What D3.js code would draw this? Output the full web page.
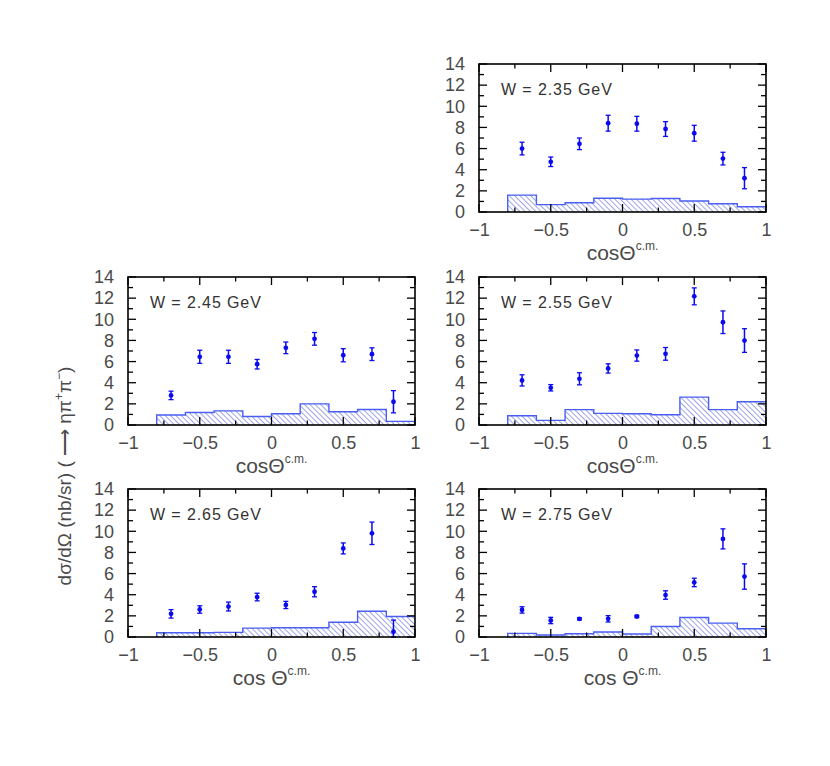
<!DOCTYPE html>
<html>
<head>
<meta charset="utf-8">
<script src="https://cdn.jsdelivr.net/npm/d3@7"></script>
<style>
  body { margin: 0; background: #fff; }
  text { font-family: "Liberation Sans", Arial, sans-serif; }
</style>
</head>
<body>
<svg id="chart" width="830" height="766"></svg>
<script>
// histogram bin edges (systematic errors) and cos(theta) of the data points
const binEdges = [-0.8, -0.6, -0.4, -0.2, 0, 0.2, 0.4, 0.6, 0.8, 1.0];
const cosPoints = [-0.7, -0.5, -0.3, -0.1, 0.1, 0.3, 0.5, 0.7, 0.85];
const xMajorTicks = [-1, -0.5, 0, 0.5, 1];
const xMinorTicks = [-0.75, -0.25, 0.25, 0.75];
const yMajorTicks = [0, 2, 4, 6, 8, 10, 12, 14];
const yMinorTicks = [1, 3, 5, 7, 9, 11, 13];

const energies = ['2.35', '2.45', '2.55', '2.65', '2.75'];

// dsigma/dOmega, stat error, systematic error per bin
const xsec235 = [6.0, 4.75, 6.45, 8.4, 8.35, 7.85, 7.45, 5.05, 3.2];
const err235  = [0.6, 0.45, 0.55, 0.75, 0.7, 0.7, 0.75, 0.6, 1.0];
const sys235  = [1.6, 0.7, 0.88, 1.3, 1.22, 1.28, 1.04, 0.78, 0.5];

const xsec245 = [2.8, 6.45, 6.45, 5.75, 7.3, 8.15, 6.6, 6.7, 2.2];
const err245  = [0.4, 0.62, 0.62, 0.45, 0.55, 0.6, 0.62, 0.6, 1.05];
const sys245  = [0.94, 1.18, 1.34, 0.8, 1.06, 2.0, 1.25, 1.47, 0.34];

const xsec255 = [4.22, 3.52, 4.37, 5.35, 6.57, 6.73, 12.17, 9.72, 7.99];
const err255  = [0.53, 0.3, 0.57, 0.44, 0.53, 0.6, 0.8, 1.07, 1.12];
const sys255  = [0.88, 0.44, 1.45, 1.1, 1.07, 0.97, 2.64, 1.45, 2.2];

const xsec265 = [2.19, 2.6, 2.88, 3.78, 3.03, 4.28, 8.38, 9.81, 0.5];
const err265  = [0.4, 0.35, 0.42, 0.36, 0.34, 0.48, 0.52, 1.06, 1.1];
const sys265  = [0.4, 0.4, 0.44, 0.84, 0.87, 0.87, 1.4, 2.44, 1.94];

const xsec275 = [2.56, 1.56, 1.72, 1.72, 1.94, 3.97, 5.16, 9.28, 5.72];
const err275  = [0.3, 0.3, 0.1, 0.3, 0.1, 0.4, 0.4, 0.95, 1.2];
const sys275  = [0.34, 0.19, 0.31, 0.47, 0.28, 1.0, 1.84, 1.31, 0.78];

const panels = [
  { w: energies[0], xsec: xsec235, err: err235, sys: sys235, col: 1, row: 0, spaced: false },
  { w: energies[1], xsec: xsec245, err: err245, sys: sys245, col: 0, row: 1, spaced: false },
  { w: energies[2], xsec: xsec255, err: err255, sys: sys255, col: 1, row: 1, spaced: false },
  { w: energies[3], xsec: xsec265, err: err265, sys: sys265, col: 0, row: 2, spaced: true },
  { w: energies[4], xsec: xsec275, err: err275, sys: sys275, col: 1, row: 2, spaced: true },
];

const colX = [128, 479];
const rowY = [64, 277, 489];
const pw = 287, ph = 148;
const blue = '#0a0af0';
const labelFont = '"Liberation Sans", Arial, sans-serif';

const svg = d3.select('#chart');

// hatch for the systematic histogram
svg.append('defs').append('pattern')
  .attr('id', 'hatch')
  .attr('patternUnits', 'userSpaceOnUse')
  .attr('width', 3.8).attr('height', 4)
  .attr('patternTransform', 'rotate(-45)')
  .append('line')
  .attr('x1', 0).attr('y1', -1).attr('x2', 0).attr('y2', 5)
  .attr('stroke', '#2436c8').attr('stroke-width', 0.9);

const x = d3.scaleLinear().domain([-1, 1]).range([0, pw]);
const y = d3.scaleLinear().domain([0, 14]).range([ph, 0]).clamp(true);

panels.forEach(p => {
  const g = svg.append('g')
    .attr('transform', `translate(${colX[p.col]},${rowY[p.row]})`);

  // histogram: one point per left bin edge plus closing edge
  const steps = binEdges.map((e, i) => ({ e, v: p.sys[Math.min(i, p.sys.length - 1)] }));
  g.append('path')
    .attr('d', d3.area().curve(d3.curveStepAfter)
      .x(d => x(d.e)).y0(y(0)).y1(d => y(d.v))(steps))
    .attr('fill', 'url(#hatch)');
  g.append('path')
    .attr('d', d3.line().curve(d3.curveStepAfter)
      .x(d => x(d.e)).y(d => y(d.v))([{ e: binEdges[0], v: 0 }, ...steps]))
    .attr('fill', 'none')
    .attr('stroke', '#4a5ef4')
    .attr('stroke-width', 1.4);

  // data points with error bars
  const pts = cosPoints.map((c, i) => ({ c, v: p.xsec[i], e: p.err[i] }));
  const pg = g.append('g').selectAll('g').data(pts).join('g')
    .attr('transform', d => `translate(${x(d.c)},0)`);
  pg.append('line')
    .attr('y1', d => y(d.v - d.e)).attr('y2', d => y(d.v + d.e))
    .attr('stroke', blue).attr('stroke-width', 1.5);
  pg.append('line')
    .attr('x1', -2.5).attr('x2', 2.5)
    .attr('y1', d => y(d.v + d.e)).attr('y2', d => y(d.v + d.e))
    .attr('stroke', blue).attr('stroke-width', 1.3);
  pg.append('line')
    .attr('x1', -2.5).attr('x2', 2.5)
    .attr('y1', d => y(d.v - d.e)).attr('y2', d => y(d.v - d.e))
    .attr('stroke', blue).attr('stroke-width', 1.3);
  pg.append('circle')
    .attr('cy', d => y(d.v)).attr('r', 2.4)
    .attr('fill', blue);

  // inward ticks on all four sides
  const tk = g.append('g').attr('stroke', '#000').attr('stroke-width', 1.3);
  const xt = [...xMajorTicks.map(v => ({ v, l: 8 })), ...xMinorTicks.map(v => ({ v, l: 4.5 }))];
  tk.selectAll('.xb').data(xt).join('line')
    .attr('x1', d => x(d.v)).attr('x2', d => x(d.v))
    .attr('y1', ph).attr('y2', d => ph - d.l);
  tk.selectAll('.xt').data(xt).join('line')
    .attr('x1', d => x(d.v)).attr('x2', d => x(d.v))
    .attr('y1', 0).attr('y2', d => d.l);
  const yt = [...yMajorTicks.map(v => ({ v, l: 8 })), ...yMinorTicks.map(v => ({ v, l: 5 }))];
  tk.selectAll('.yl').data(yt).join('line')
    .attr('y1', d => y(d.v)).attr('y2', d => y(d.v))
    .attr('x1', 0).attr('x2', d => d.l);
  tk.selectAll('.yr').data(yt).join('line')
    .attr('y1', d => y(d.v)).attr('y2', d => y(d.v))
    .attr('x1', pw).attr('x2', d => pw - d.l);

  // frame
  g.append('rect')
    .attr('width', pw).attr('height', ph)
    .attr('fill', 'none').attr('stroke', '#000').attr('stroke-width', 1.6);

  // tick labels through d3 axes
  const xa = g.append('g')
    .attr('transform', `translate(0,${ph})`)
    .call(d3.axisBottom(x).tickValues(xMajorTicks).tickSize(0).tickPadding(11)
      .tickFormat(d => d3.format('.1~f')(d).replace('-', '\u2212')));
  const ya = g.append('g')
    .call(d3.axisLeft(y).tickValues(yMajorTicks).tickSize(0).tickPadding(14));
  [xa, ya].forEach(a => {
    a.select('.domain').remove();
    a.selectAll('text')
      .attr('fill', '#4a4a4a')
      .style('font-family', labelFont)
      .style('font-size', '18px');
  });

  // energy label
  g.append('text')
    .attr('x', 22).attr('y', 31)
    .attr('fill', '#333')
    .style('font-size', '16px')
    .style('letter-spacing', '0.9px')
    .text(`W = ${p.w} GeV`);

  // x-axis title
  const xt2 = g.append('text')
    .attr('x', pw / 2).attr('y', ph + 48)
    .attr('text-anchor', 'middle')
    .attr('fill', '#4a4a4a')
    .style('font-size', '21px');
  xt2.append('tspan').text(p.spaced ? 'cos \u0398' : 'cos\u0398');
  xt2.append('tspan').attr('dy', -10).style('font-size', '12px').text('c.m.');
});

// shared y-axis title
const yt = svg.append('text')
  .attr('transform', 'translate(71,476) rotate(-90)')
  .attr('text-anchor', 'middle')
  .attr('fill', '#4a4a4a')
  .style('font-size', '19px');
yt.append('tspan').text('d\u03c3/d\u03a9 (nb/sr) ( \u27f6 \u03b7\u03c0');
yt.append('tspan').attr('dy', -8).style('font-size', '12px').text('+');
yt.append('tspan').attr('dy', 8).text('\u03c0');
yt.append('tspan').attr('dy', -8).style('font-size', '12px').text('\u2212');
yt.append('tspan').attr('dy', 8).text(')');
</script>
</body>
</html>
